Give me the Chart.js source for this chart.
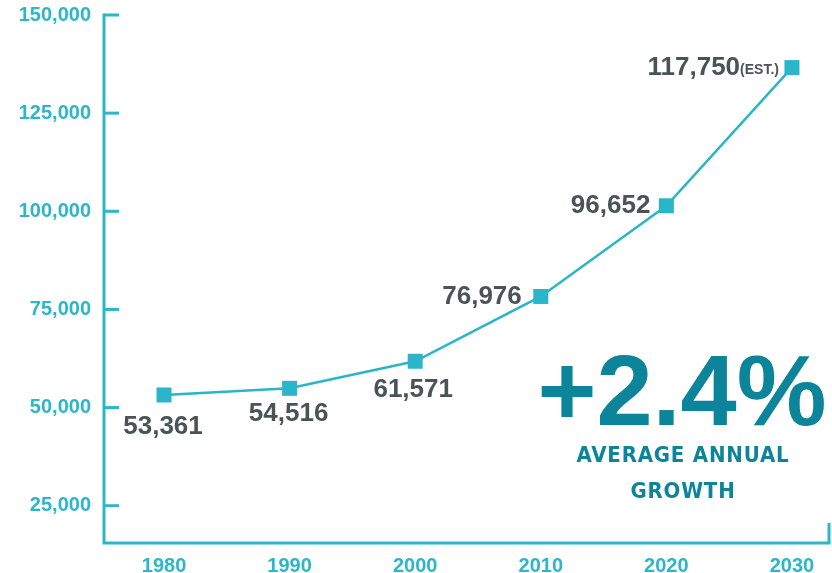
<!DOCTYPE html>
<html>
<head>
<meta charset="utf-8">
<script src="https://cdn.jsdelivr.net/npm/chart.js@4.4.1/dist/chart.umd.min.js"></script>
<style>
    html, body { margin: 0; padding: 0; background: #ffffff; }
    #wrap { position: relative; width: 832px; height: 573px; }
</style>
</head>
<body>
<div id="wrap"><canvas id="growth-chart"></canvas></div>
<script>
// values (marks sit where the original drew them)
const years = [1980, 1990, 2000, 2010, 2020, 2030];
const plottedPopulation = [53200, 54900, 61800, 78300, 101400, 136600];
const populationLabels = ["53,361", "54,516", "61,571", "76,976", "96,652", "117,750"];
const labelSuffixes = ["", "", "", "", "", "(EST.)"];
const yTickValues = [25000, 50000, 75000, 100000, 125000, 150000];
const xTickValues = [1980, 1990, 2000, 2010, 2020, 2030];
const growthRate = "+2.4%";
const growthCaption = ["AVERAGE ANNUAL", "GROWTH"];

const COLORS = {
    axis: "#2bb7c9",
    line: "#2ab5c8",
    label: "#4b5356",
    growth: "#0c8499"
};

const FONT_FAMILY = "'Liberation Sans', Arial, sans-serif";

// where each value label sits relative to its marker (baseline anchor)
const labelPlacement = [
    { align: "center", dx: -1, dy: 39 },
    { align: "center", dx: -1, dy: 33 },
    { align: "center", dx: -2, dy: 36 },
    { align: "right", dx: -19, dy: 8 },
    { align: "right", dx: -16, dy: 7 },
    { align: "right", dx: -13, dy: 7 }
];

const axisFrame = {
    id: "axisFrame",
    beforeDatasetsDraw(chart) {
        const { ctx, chartArea, scales } = chart;
        ctx.save();
        ctx.strokeStyle = COLORS.axis;
        ctx.lineWidth = 3;
        ctx.lineCap = "butt";

        ctx.beginPath();
        ctx.moveTo(chartArea.left, chartArea.top - 1.5);
        ctx.lineTo(chartArea.left, chartArea.bottom);
        ctx.lineTo(chartArea.right, chartArea.bottom);
        ctx.lineTo(chartArea.right, chartArea.bottom - 20);
        ctx.stroke();

        yTickValues.forEach((value) => {
            const y = scales.y.getPixelForValue(value);
            ctx.beginPath();
            ctx.moveTo(chartArea.left, y);
            ctx.lineTo(chartArea.left + 15, y);
            ctx.stroke();
        });
        ctx.restore();
    }
};

const valueLabels = {
    id: "valueLabels",
    afterDatasetsDraw(chart) {
        const { ctx } = chart;
        const points = chart.getDatasetMeta(0).data;
        ctx.save();
        ctx.fillStyle = COLORS.label;
        ctx.textBaseline = "alphabetic";
        ctx.textAlign = "left";

        points.forEach((point, index) => {
            const place = labelPlacement[index];
            const main = populationLabels[index];
            const suffix = labelSuffixes[index];

            ctx.font = `bold 26px ${FONT_FAMILY}`;
            const mainWidth = ctx.measureText(main).width;
            ctx.font = `bold 14px ${FONT_FAMILY}`;
            const suffixWidth = suffix ? ctx.measureText(suffix).width : 0;

            const total = mainWidth + suffixWidth;
            const anchorX = point.x + place.dx;
            const startX = place.align === "center" ? anchorX - total / 2 : anchorX - total;
            const baseY = point.y + place.dy;

            ctx.font = `bold 26px ${FONT_FAMILY}`;
            ctx.fillText(main, startX, baseY);

            if (suffix) {
                ctx.font = `bold 14px ${FONT_FAMILY}`;
                ctx.fillText(suffix, startX + mainWidth, baseY - 1);
            }
        });
        ctx.restore();
    }
};

const growthCallout = {
    id: "growthCallout",
    afterDraw(chart) {
        const { ctx } = chart;
        ctx.save();
        ctx.fillStyle = COLORS.growth;
        ctx.textAlign = "center";
        ctx.textBaseline = "alphabetic";

        ctx.font = `bold 101px ${FONT_FAMILY}`;
        ctx.fillText(growthRate, 682, 425);

        ctx.font = "bold 22px 'DejaVu Sans Condensed', 'DejaVu Sans', sans-serif";
        ctx.letterSpacing = "0.8px";
        ctx.fillText(growthCaption[0], 683, 462);
        ctx.fillText(growthCaption[1], 683, 498);
        ctx.restore();
    }
};

const chartCanvas = document.getElementById("growth-chart");

new Chart(chartCanvas.getContext("2d"), {
    type: "line",
    data: {
        datasets: [
            {
                data: years.map((year, i) => ({ x: year, y: plottedPopulation[i] })),
                borderColor: COLORS.line,
                borderWidth: 2.5,
                tension: 0,
                pointStyle: "rect",
                pointRadius: 10.6,
                pointHoverRadius: 10.6,
                pointBackgroundColor: COLORS.line,
                pointBorderWidth: 0
            }
        ]
    },
    options: {
        responsive: true,
        maintainAspectRatio: false,
        animation: false,
        events: [],
        layout: {
            autoPadding: false,
            padding: { top: 15, right: 3, left: 0, bottom: 0 }
        },
        plugins: {
            legend: { display: false },
            tooltip: { enabled: false }
        },
        scales: {
            x: {
                type: "linear",
                min: 1975.22,
                max: 2032.95,
                grid: { display: false, drawTicks: false },
                border: { display: false },
                afterBuildTicks(scale) {
                    scale.ticks = xTickValues.map((value) => ({ value }));
                },
                afterFit(scale) {
                    scale.height = 30;
                    scale.paddingLeft = 0;
                    scale.paddingRight = 0;
                },
                ticks: {
                    autoSkip: false,
                    maxRotation: 0,
                    padding: 11,
                    color: COLORS.axis,
                    font: { family: FONT_FAMILY, size: 20, weight: "bold" },
                    callback(value) {
                        return String(value);
                    }
                }
            },
            y: {
                type: "linear",
                min: 15500,
                max: 150000,
                grid: { display: false, drawTicks: false },
                border: { display: false },
                afterBuildTicks(scale) {
                    scale.ticks = yTickValues.map((value) => ({ value }));
                },
                afterFit(scale) {
                    scale.width = 104;
                    scale.paddingTop = 0;
                    scale.paddingBottom = 0;
                },
                ticks: {
                    padding: 13,
                    color: COLORS.axis,
                    font: { family: FONT_FAMILY, size: 20, weight: "bold" },
                    callback(value) {
                        return value.toLocaleString("en-US");
                    }
                }
            }
        }
    },
    plugins: [axisFrame, valueLabels, growthCallout]
});
</script>
</body>
</html>
